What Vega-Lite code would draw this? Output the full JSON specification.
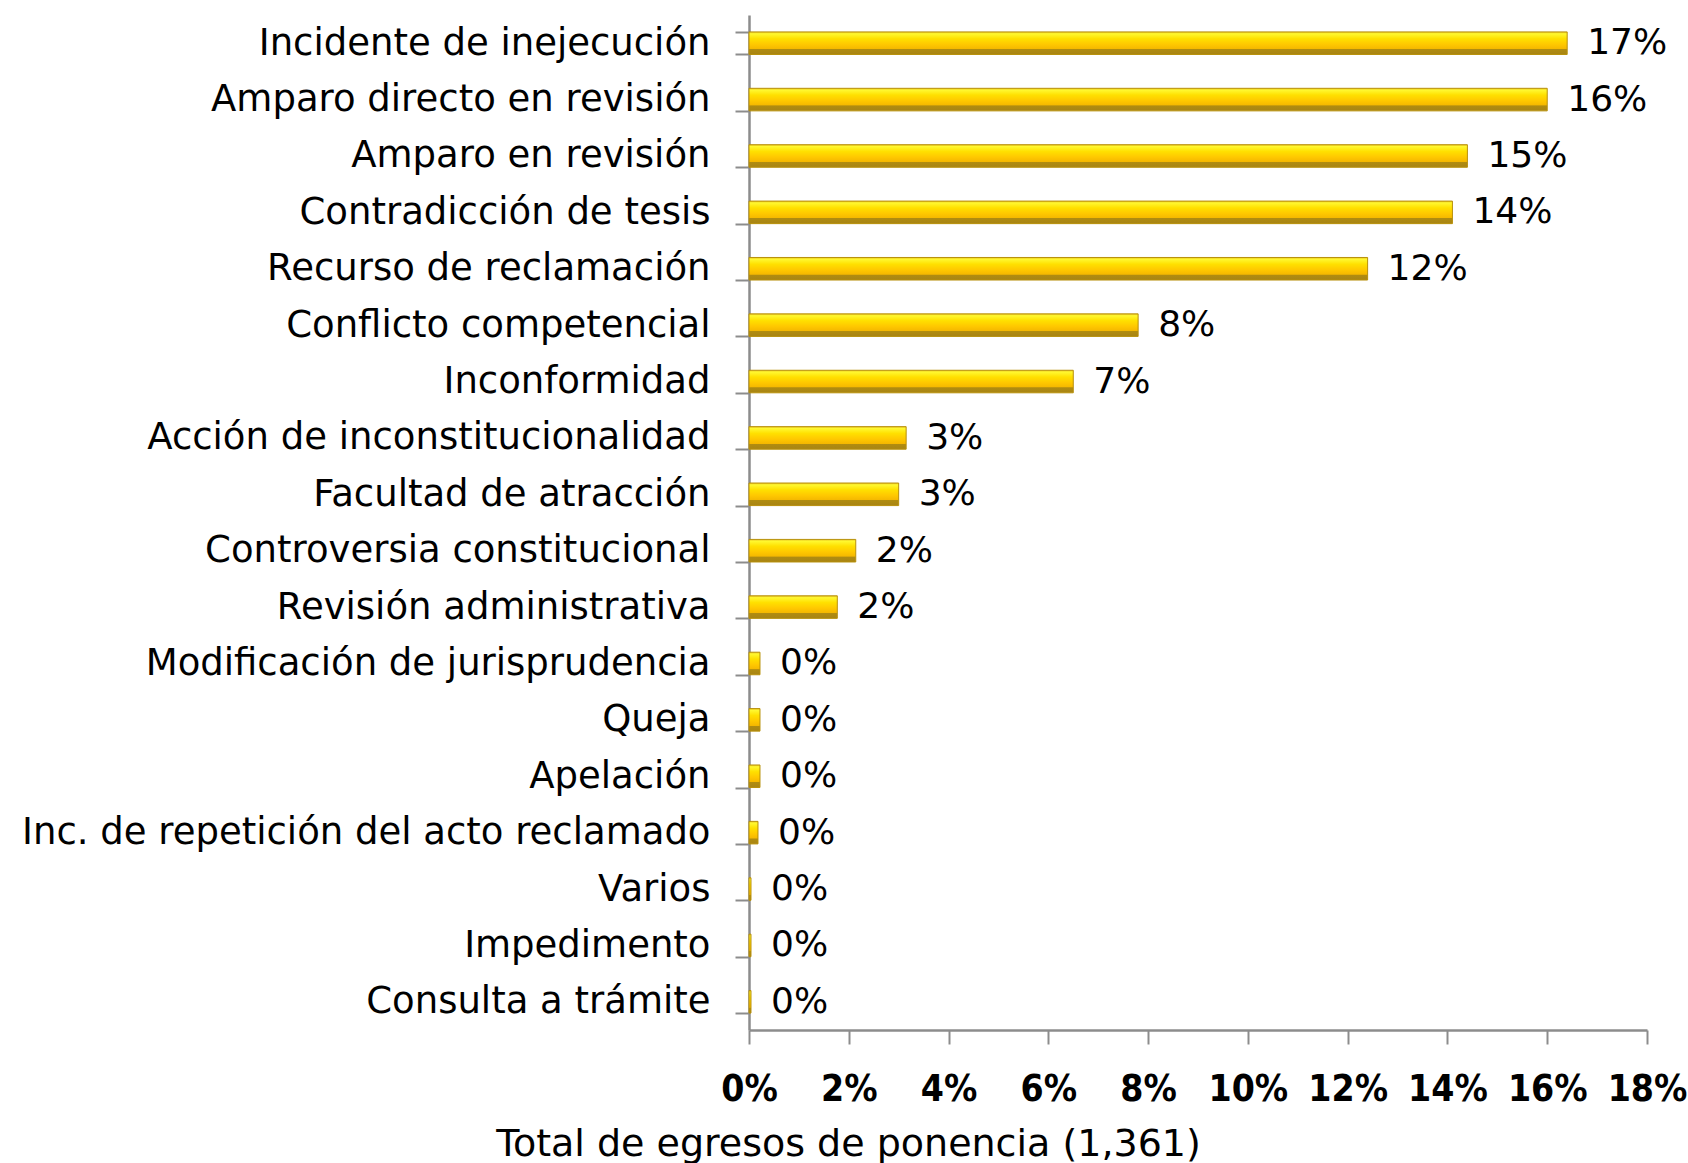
{
  "$schema": "https://vega.github.io/schema/vega-lite/v6.json",
  "width": 898,
  "height": 1015,
  "autosize": {"type": "none"},
  "padding": {"left": 749, "top": 15, "right": 41, "bottom": 133},
  "background": "white",
  "config": {"view": {"stroke": null}},
  "data": {
    "values": [
      {"tipo": "Incidente de inejecución", "pct": 0.164, "etiqueta": "17%"},
      {"tipo": "Amparo directo en revisión", "pct": 0.160, "etiqueta": "16%"},
      {"tipo": "Amparo en revisión", "pct": 0.144, "etiqueta": "15%"},
      {"tipo": "Contradicción de tesis", "pct": 0.141, "etiqueta": "14%"},
      {"tipo": "Recurso de reclamación", "pct": 0.124, "etiqueta": "12%"},
      {"tipo": "Conflicto competencial", "pct": 0.078, "etiqueta": "8%"},
      {"tipo": "Inconformidad", "pct": 0.065, "etiqueta": "7%"},
      {"tipo": "Acción de inconstitucionalidad", "pct": 0.0315, "etiqueta": "3%"},
      {"tipo": "Facultad de atracción", "pct": 0.030, "etiqueta": "3%"},
      {"tipo": "Controversia constitucional", "pct": 0.0214, "etiqueta": "2%"},
      {"tipo": "Revisión administrativa", "pct": 0.0177, "etiqueta": "2%"},
      {"tipo": "Modificación de jurisprudencia", "pct": 0.0022, "etiqueta": "0%"},
      {"tipo": "Queja", "pct": 0.0022, "etiqueta": "0%"},
      {"tipo": "Apelación", "pct": 0.0022, "etiqueta": "0%"},
      {"tipo": "Inc. de repetición del acto reclamado", "pct": 0.0018, "etiqueta": "0%"},
      {"tipo": "Varios", "pct": 0.0004, "etiqueta": "0%"},
      {"tipo": "Impedimento", "pct": 0.0004, "etiqueta": "0%"},
      {"tipo": "Consulta a trámite", "pct": 0.0004, "etiqueta": "0%"}
    ]
  },
  "encoding": {
    "y": {
      "field": "tipo",
      "type": "nominal",
      "sort": null,
      "scale": {"paddingInner": 0.6, "paddingOuter": 0.3},
      "axis": {
        "title": null,
        "tickBand": "extent",
        "tickSize": 14,
        "tickColor": "#8c8c8c",
        "tickWidth": 2,
        "domainColor": "#8c8c8c",
        "domainWidth": 2.5,
        "labelFont": "DejaVu Sans",
        "labelFontWeight": "normal",
        "labelFontSize": 37,
        "labelColor": "#000000",
        "labelPadding": 25,
        "labelLimit": 900
      }
    },
    "x": {
      "field": "pct",
      "type": "quantitative",
      "scale": {"domain": [0, 0.18], "nice": false},
      "axis": {
        "title": "Total de egresos de ponencia (1,361)",
        "values": [0, 0.02, 0.04, 0.06, 0.08, 0.1, 0.12, 0.14, 0.16, 0.18],
        "format": ".0%",
        "grid": false,
        "tickSize": 14,
        "tickColor": "#8c8c8c",
        "tickWidth": 2,
        "domainColor": "#8c8c8c",
        "domainWidth": 2.5,
        "labelFont": "DejaVu Sans Condensed",
        "labelFontWeight": "bold",
        "labelFontSize": 37,
        "labelColor": "#000000",
        "labelPadding": 27,
        "labelFlush": false,
        "labelOverlap": false,
        "titleFont": "DejaVu Sans",
        "titleFontWeight": "normal",
        "titleFontSize": 38,
        "titleColor": "#000000",
        "titlePadding": 18,
        "titleX": 99,
        "titleAlign": "center",
        "titleAnchor": null
      }
    }
  },
  "layer": [
    {
      "mark": {
        "type": "bar",
        "color": {
          "gradient": "linear",
          "x1": 0, "y1": 0, "x2": 0, "y2": 1,
          "stops": [
            {"offset": 0, "color": "#e8c020"},
            {"offset": 0.08, "color": "#fff830"},
            {"offset": 0.3, "color": "#ffe000"},
            {"offset": 0.55, "color": "#ffc800"},
            {"offset": 0.75, "color": "#f5b800"},
            {"offset": 0.77, "color": "#b08c10"},
            {"offset": 1, "color": "#a88414"}
          ]
        },
        "stroke": "#b8900a",
        "strokeWidth": 1
      }
    },
    {
      "mark": {
        "type": "text",
        "align": "left",
        "baseline": "middle",
        "dx": 20,
        "font": "DejaVu Sans",
        "fontWeight": "normal",
        "fontSize": 36,
        "color": "#000000"
      },
      "encoding": {"text": {"field": "etiqueta"}}
    }
  ]
}
